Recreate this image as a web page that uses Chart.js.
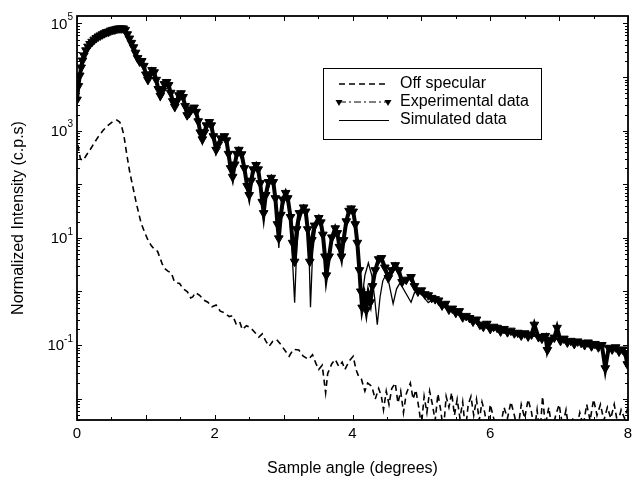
<!DOCTYPE html>
<html>
<head>
<meta charset="utf-8">
<script src="https://cdn.jsdelivr.net/npm/chart.js@4.4.0/dist/chart.umd.min.js"></script>
<style>
  html, body { margin: 0; padding: 0; background: #fff; }
</style>
</head>
<body>
<canvas id="refl" width="634" height="483"></canvas>
<script>
// series names, in legend order
var seriesNames = ["Off specular", "Experimental data", "Simulated data"];

// axis ticks
var xTicks = [0, 2, 4, 6, 8];
var yTickExps = [-1, 1, 3, 5];

// experimental data (triangles)
var expX = [0.00,0.02,0.04,0.06,0.08,0.10,0.13,0.16,0.19,0.22,0.25,0.28,0.31,0.34,0.37,0.40,0.43,0.46,0.49,0.52,
  0.55,0.58,0.61,0.64,0.67,0.70,0.73,0.76,0.79,0.82,0.85,0.88,0.91,0.94,0.97,1.00,1.03,1.06,1.09,1.12,
  1.15,1.18,1.21,1.24,1.27,1.30,1.33,1.36,1.39,1.42,1.45,1.48,1.51,1.54,1.57,1.60,1.63,1.66,1.70,1.73,
  1.76,1.79,1.82,1.85,1.88,1.92,1.95,1.98,2.02,2.05,2.09,2.14,2.17,2.20,2.23,2.26,2.29,2.32,2.35,2.39,
  2.43,2.47,2.50,2.53,2.56,2.60,2.63,2.66,2.69,2.71,2.74,2.78,2.82,2.85,2.88,2.91,2.93,2.96,2.99,3.03,
  3.06,3.10,3.13,3.16,3.19,3.23,3.29,3.32,3.35,3.38,3.41,3.45,3.51,3.54,3.57,3.60,3.62,3.66,3.70,3.75,
  3.78,3.81,3.84,3.87,3.91,3.95,3.98,4.01,4.04,4.07,4.10,4.12,4.14,4.17,4.20,4.23,4.26,4.29,4.33,4.38,
  4.42,4.47,4.52,4.57,4.62,4.67,4.72,4.78,4.85,4.90,4.95,5.00,5.05,5.10,5.15,5.20,5.25,5.30,5.35,5.40,
  5.45,5.50,5.55,5.60,5.65,5.70,5.75,5.80,5.85,5.90,5.95,6.00,6.05,6.10,6.15,6.20,6.25,6.30,6.35,6.40,
  6.45,6.50,6.55,6.60,6.64,6.70,6.75,6.80,6.83,6.88,6.93,6.97,7.02,7.07,7.12,7.17,7.22,7.27,7.32,7.37,
  7.42,7.47,7.52,7.57,7.62,7.67,7.72,7.77,7.82,7.87,7.92,7.96,7.99];
var expY = [3800,6800,10700,15100,20400,25400,31600,37000,41500,45600,50000,53500,57300,60000,63000,66000,69000,70500,74000,76000,
  77500,79500,81000,81000,81000,76000,63000,52500,43500,36000,28500,22600,19500,20000,16200,11200,8900,11200,13500,12300,
  8900,6000,4500,5600,7400,8100,7100,5100,3550,2800,3550,4600,5000,4250,2900,1950,2150,2500,2700,2250,
  1500,930,690,930,1260,1450,1260,790,440,550,720,790,660,370,200,138,234,370,440,363,
  200,93,63,117,190,229,190,105,47,29,63,110,132,110,55,18,9.8,27,52,69,
  55,24.5,8.1,3.6,14.5,29,37,31,14.5,3.6,9.1,17,23.5,19.5,11.5,4.5,2.0,4.5,10.2,15.1,
  12.3,6.8,4.5,9.1,20.4,32,35.5,31,18,8.1,2.5,1.0,0.50,0.79,0.45,0.89,0.63,1.26,2.5,4.0,
  4.2,2.8,1.78,2.5,3.1,2.5,1.5,1.66,1.86,1.26,1.0,1.05,0.89,0.85,0.76,0.72,0.68,0.55,0.59,0.46,
  0.48,0.40,0.43,0.33,0.35,0.32,0.275,0.30,0.24,0.22,0.25,0.20,0.22,0.21,0.18,0.20,0.174,0.186,0.166,0.17,
  0.151,0.166,0.145,0.158,0.24,0.141,0.132,0.148,0.081,0.126,0.138,0.21,0.12,0.132,0.112,0.12,0.105,0.117,0.11,0.10,
  0.112,0.095,0.105,0.091,0.10,0.037,0.089,0.083,0.091,0.076,0.083,0.071,0.044];

// simulated data (thin solid line)
var simX = [0.00,0.03,0.06,0.10,0.15,0.20,0.30,0.40,0.50,0.60,0.66,0.70,0.76,0.82,0.88,0.94,1.00,1.03,1.06,1.09,
  1.14,1.18,1.21,1.25,1.30,1.35,1.39,1.42,1.46,1.51,1.56,1.60,1.65,1.70,1.75,1.79,1.82,1.86,1.92,1.97,
  2.00,2.02,2.06,2.14,2.19,2.23,2.26,2.30,2.35,2.41,2.46,2.50,2.54,2.60,2.65,2.69,2.71,2.74,2.82,2.87,
  2.91,2.93,2.96,3.03,3.08,3.12,3.16,3.19,3.23,3.29,3.34,3.37,3.39,3.42,3.46,3.51,3.56,3.60,3.62,3.65,
  3.70,3.75,3.80,3.84,3.88,3.93,3.97,4.01,4.05,4.09,4.13,4.18,4.23,4.28,4.32,4.36,4.40,4.44,4.48,4.53,
  4.59,4.64,4.69,4.76,4.85,4.90,4.94,5.02,5.10,5.17,5.24,5.40,5.60,5.80,6.00,6.30,6.60,7.00,7.40,7.80,8.00];
var simY = [4300,9500,15100,25400,35000,42500,56000,66000,74000,79500,81000,74000,51000,36000,23700,19300,10700,8100,10700,13200,
  9500,5600,4100,6000,7900,5600,3200,2500,3800,4900,3200,1700,2340,2630,1700,870,600,1050,1410,930,
  525,370,600,790,470,186,117,275,427,295,105,47,132,224,138,41,20.4,54,129,79,
  16.2,6.5,23,68,36,6.5,0.62,6.5,20.4,36,23,4.5,0.51,5.1,14.5,23,14.5,4.0,1.86,4.0,
  10.7,15.1,9.1,4.4,10.7,25.7,36,32,14.5,3.6,0.62,2.0,3.4,2.0,0.79,0.24,0.79,1.58,2.0,1.41,
  0.59,1.12,1.45,1.0,0.63,0.95,1.07,0.83,0.62,0.72,0.69,0.50,0.35,0.275,0.22,0.178,0.148,0.126,0.105,0.087,0.076];

// off specular scan (dashed line)
var offX = [0.00,0.02,0.05,0.09,0.14,0.19,0.25,0.31,0.38,0.45,0.52,0.58,0.62,0.65,0.68,0.72,0.76,0.79,0.83,0.86,
  0.90,0.93,0.98,1.03,1.08,1.13,1.17,1.20,1.24,1.27,1.32,1.37,1.41,1.44,1.49,1.54,1.60,1.65,1.68,1.72,
  1.78,1.84,1.90,1.96,2.02,2.08,2.14,2.21,2.26,2.31,2.36,2.40,2.46,2.52,2.58,2.64,2.69,2.74,2.79,2.84,
  2.90,2.96,3.02,3.08,3.14,3.22,3.28,3.36,3.42,3.47,3.51,3.56,3.61,3.64,3.70,3.75,3.80,3.85,3.89,3.95,
  4.01,4.05,4.09,4.13,4.18,4.22,4.28,4.33,4.38,4.42,4.45,4.49,4.53,4.57,4.62,4.66,4.70,4.74,4.78,4.84,
  4.88,4.92,4.96,5.00,5.04,5.08,5.12,5.16,5.20,5.24,5.28,5.32,5.36,5.40,5.44,5.48,5.52,5.56,5.60,5.64,
  5.68,5.72,5.76,5.80,5.84,5.88,5.92,5.96,6.00,6.05,6.10,6.15,6.20,6.25,6.30,6.35,6.40,6.45,6.50,6.55,
  6.60,6.64,6.68,6.72,6.76,6.80,6.85,6.90,6.95,7.00,7.05,7.10,7.15,7.20,7.25,7.30,7.35,7.40,7.45,7.50,
  7.55,7.60,7.65,7.70,7.75,7.80,7.85,7.90,7.95,8.00];
var offY = [830,470,295,280,355,440,590,775,1020,1260,1480,1580,1450,1170,830,380,186,120,69,45,
  27.5,19,12.9,9.1,7.1,6.0,5.6,4.4,3.2,2.7,2.4,2.2,1.58,1.45,1.41,1.12,1.0,0.76,0.79,0.95,
  0.85,0.69,0.63,0.52,0.56,0.43,0.40,0.34,0.355,0.25,0.275,0.195,0.23,0.21,0.174,0.141,0.162,0.12,0.095,0.117,
  0.126,0.102,0.079,0.062,0.083,0.081,0.063,0.054,0.066,0.045,0.035,0.042,0.0129,0.0295,0.045,0.054,0.040,0.048,0.035,0.050,
  0.062,0.035,0.026,0.023,0.0138,0.0195,0.017,0.0098,0.0155,0.011,0.0062,0.0138,0.0078,0.0155,0.0195,0.0083,0.0138,0.0055,0.0123,0.0195,
  0.0098,0.0145,0.0071,0.0031,0.011,0.0055,0.0138,0.0078,0.0039,0.0123,0.0062,0.0025,0.011,0.0069,0.0129,0.0049,0.0097,0.0043,0.0087,0.0025,
  0.0078,0.011,0.0049,0.0097,0.0039,0.0087,0.0055,0.0025,0.0078,0.0043,0.002,0.0031,0.0069,0.0043,0.0087,0.0049,0.0025,0.0078,0.0043,0.0097,
  0.0055,0.0025,0.0062,0.002,0.011,0.0031,0.0069,0.0025,0.0049,0.0078,0.0031,0.0062,0.0022,0.0043,0.0027,0.0055,0.0031,0.0078,0.0039,0.0097,
  0.0049,0.0078,0.0039,0.0069,0.0043,0.0078,0.0034,0.0062,0.0043,0.0069];

var FONT = "'Liberation Sans', Arial, Helvetica, sans-serif";

function pairs(xs, ys) {
  var out = [];
  for (var i = 0; i < xs.length; i++) out.push({x: xs[i], y: ys[i]});
  return out;
}

function downTriangle(ctx, x, y, r) {
  ctx.beginPath();
  ctx.moveTo(x - r * 0.87, y - r * 0.5);
  ctx.lineTo(x + r * 0.87, y - r * 0.5);
  ctx.lineTo(x, y + r);
  ctx.closePath();
  ctx.fill();
}

// frame, inward ticks, tick labels and the legend box
var framePlugin = {
  id: 'frame',
  afterDraw: function(chart) {
    var ctx = chart.ctx, a = chart.chartArea;
    var xs = chart.scales.x, ys = chart.scales.y;
    ctx.save();
    ctx.strokeStyle = '#000';
    ctx.fillStyle = '#000';

    ctx.lineWidth = 1;
    ctx.beginPath();
    for (var v = 0; v <= 8; v += 0.5) {
      var px = Math.round(xs.getPixelForValue(v)) + 0.5;
      var len = (v % 1 === 0) ? 5 : 3;
      ctx.moveTo(px, a.bottom); ctx.lineTo(px, a.bottom - len);
      ctx.moveTo(px, a.top); ctx.lineTo(px, a.top + len);
    }
    for (var e = -3; e <= 5; e++) {
      for (var m = 1; m < 10; m++) {
        var val = m * Math.pow(10, e);
        if (val < ys.min || val > ys.max) continue;
        var py = Math.round(ys.getPixelForValue(val)) + 0.5;
        var l = (m === 1) ? 5 : 3;
        ctx.moveTo(a.left, py); ctx.lineTo(a.left + l, py);
        ctx.moveTo(a.right, py); ctx.lineTo(a.right - l, py);
      }
    }
    ctx.stroke();

    ctx.lineWidth = 1.8;
    ctx.strokeRect(a.left, a.top, a.right - a.left, a.bottom - a.top);

    // x tick labels
    ctx.font = '15px ' + FONT;
    ctx.textAlign = 'center';
    ctx.textBaseline = 'middle';
    xTicks.forEach(function(t) {
      ctx.fillText(String(t), xs.getPixelForValue(t), a.bottom + 14);
    });

    // y tick labels, 10 with a raised exponent
    yTickExps.forEach(function(ex) {
      var py = ys.getPixelForValue(Math.pow(10, ex));
      var sup = String(ex);
      ctx.font = '10px ' + FONT;
      var wSup = ctx.measureText(sup).width;
      ctx.font = '15px ' + FONT;
      var wBase = ctx.measureText('10').width;
      var right = a.left - 4;
      ctx.textAlign = 'left';
      ctx.textBaseline = 'middle';
      ctx.fillText('10', right - wSup - wBase, py + 1);
      ctx.font = '10px ' + FONT;
      ctx.fillText(sup, right - wSup, py - 6);
    });

    // legend
    var bx = 323, by = 68, bw = 218, bh = 71;
    ctx.fillStyle = '#fff';
    ctx.fillRect(bx, by, bw, bh);
    ctx.lineWidth = 1;
    ctx.strokeStyle = '#000';
    ctx.strokeRect(bx + 0.5, by + 0.5, bw, bh);
    ctx.fillStyle = '#000';
    var rows = [84, 102, 120];
    var x0 = 339, x1 = 388;

    ctx.lineWidth = 1.5;
    ctx.setLineDash([6, 4]);
    ctx.beginPath(); ctx.moveTo(x0, rows[0]); ctx.lineTo(x1, rows[0]); ctx.stroke();

    ctx.lineWidth = 1;
    ctx.setLineDash([7, 3, 2, 3]);
    ctx.beginPath(); ctx.moveTo(x0, rows[1]); ctx.lineTo(x1, rows[1]); ctx.stroke();
    ctx.setLineDash([]);
    downTriangle(ctx, x0, rows[1], 4);
    downTriangle(ctx, x1, rows[1], 4);

    ctx.lineWidth = 1;
    ctx.beginPath(); ctx.moveTo(x0, rows[2] + 0.5); ctx.lineTo(x1 + 1, rows[2] + 0.5); ctx.stroke();

    ctx.font = '16px ' + FONT;
    ctx.textAlign = 'left';
    ctx.textBaseline = 'middle';
    for (var i = 0; i < seriesNames.length; i++) {
      ctx.fillText(seriesNames[i], 400, rows[i]);
    }
    ctx.restore();
  }
};

window.onload = function() {
  var ctx = document.getElementById('refl').getContext('2d');

  var chart = new Chart(ctx, {
    type: 'line',
    data: {
      datasets: [{
        label: seriesNames[2],
        data: pairs(simX, simY),
        borderColor: '#000',
        borderWidth: 1.3,
        pointRadius: 0,
        tension: 0,
        order: 0
      }, {
        // dense scan: markers sit on a heavy trace, as in the scanned figure
        label: seriesNames[1],
        data: pairs(expX, expY),
        borderColor: '#000',
        borderWidth: 4,
        pointStyle: 'triangle',
        pointRotation: 180,
        pointRadius: 5,
        pointBackgroundColor: '#000',
        pointBorderColor: '#000',
        pointBorderWidth: 1,
        tension: 0,
        order: 1
      }, {
        label: seriesNames[0],
        data: pairs(offX, offY),
        borderColor: '#000',
        borderWidth: 1.6,
        borderDash: [6, 4],
        pointRadius: 0,
        tension: 0,
        order: 2
      }]
    },
    options: {
      responsive: false,
      animation: false,
      devicePixelRatio: 1,
      layout: { padding: { left: 0, right: 3, top: 16, bottom: 0 } },
      plugins: {
        legend: { display: false },
        tooltip: { enabled: false }
      },
      scales: {
        x: {
          type: 'linear',
          min: 0,
          max: 8,
          grid: { display: false, drawTicks: false },
          border: { display: false },
          ticks: { display: false },
          title: {
            display: true,
            text: 'Sample angle (degrees)',
            color: '#000',
            font: { family: FONT, size: 16 },
            padding: { top: 0, bottom: 5 }
          },
          afterFit: function(s) { s.height = 63; }
        },
        y: {
          type: 'logarithmic',
          min: 0.004,
          max: 138000,
          grid: { display: false, drawTicks: false },
          border: { display: false },
          ticks: { display: false },
          title: {
            display: true,
            text: 'Normalized Intensity (c.p.s)',
            color: '#000',
            font: { family: FONT, size: 16 },
            padding: { top: 9, bottom: 0 }
          },
          afterFit: function(s) { s.width = 77; }
        }
      }
    },
    plugins: [framePlugin]
  });
};
</script>
</body>
</html>
